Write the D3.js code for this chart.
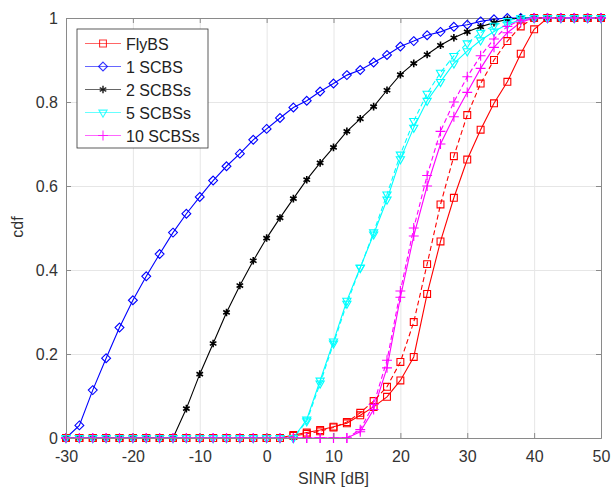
<!DOCTYPE html>
<html>
<head>
<meta charset="utf-8">
<script src="https://cdn.jsdelivr.net/npm/d3@7"></script>
<style>
    html, body { margin: 0; padding: 0; background: #fff; }
    svg { display: block; font-family: "Liberation Sans", Arial, sans-serif; }
    .grid line { stroke: #e6e6e6; stroke-width: 1; }
    .grid path { display: none; }
    .axis path, .axis line { stroke: #8a8a8a; stroke-width: 1; }
    .axis text { fill: #333; font-size: 16px; }
</style>
</head>
<body>
<svg id="cdf-chart" width="612" height="497"></svg>
<script>
// SINR axis (dB), one sample every 2 dB
const sinr = [-30, -28, -26, -24, -22, -20, -18, -16, -14, -12, -10, -8, -6, -4, -2, 0, 2, 4, 6, 8,
    10, 12, 14, 16, 18, 20, 22, 24, 26, 28, 30, 32, 34, 36, 38, 40, 42, 44, 46, 48, 50];

// cdf values (solid = first curve, dashed = second curve)
const flyBS = [0, 0, 0, 0, 0, 0, 0, 0, 0, 0, 0, 0, 0, 0, 0, 0, 0,
    0.007, 0.013, 0.019, 0.027, 0.035, 0.054, 0.074, 0.098, 0.137, 0.193, 0.343, 0.468, 0.572,
    0.663, 0.734, 0.797, 0.848, 0.915, 0.973, 1, 1, 1, 1, 1];
const flyBSDashed = [0, 0, 0, 0, 0, 0, 0, 0, 0, 0, 0, 0, 0, 0, 0, 0, 0,
    0.005, 0.010, 0.016, 0.025, 0.038, 0.060, 0.088, 0.122, 0.181, 0.276, 0.414, 0.556, 0.671,
    0.769, 0.844, 0.900, 0.945, 0.980, 1, 1, 1, 1, 1, 1];
const oneSCBS = [0, 0.030, 0.114, 0.190, 0.263, 0.328, 0.385, 0.438, 0.489, 0.534, 0.574, 0.613,
    0.647, 0.677, 0.710, 0.736, 0.762, 0.787, 0.803, 0.825, 0.844, 0.864, 0.876, 0.894, 0.912,
    0.932, 0.945, 0.959, 0.967, 0.979, 0.984, 0.992, 0.997, 1, 1, 1, 1, 1, 1, 1, 1];
const twoSCBSs = [0, 0, 0, 0, 0, 0, 0, 0, 0,
    0.070, 0.152, 0.225, 0.299, 0.363, 0.422, 0.476, 0.524, 0.570, 0.615, 0.655, 0.692, 0.730,
    0.760, 0.789, 0.828, 0.865, 0.892, 0.913, 0.935, 0.953, 0.967, 0.979, 0.989, 0.997,
    1, 1, 1, 1, 1, 1, 1];
const fiveSCBSs = [0, 0, 0, 0, 0, 0, 0, 0, 0, 0, 0, 0, 0, 0, 0, 0, 0, 0,
    0.044, 0.137, 0.230, 0.327, 0.406, 0.485, 0.568, 0.664, 0.739, 0.803, 0.848, 0.892, 0.921,
    0.947, 0.968, 0.985, 0.996, 1, 1, 1, 1, 1, 1];
const fiveSCBSsDashed = [0, 0, 0, 0, 0, 0, 0, 0, 0, 0, 0, 0, 0, 0, 0, 0, 0, 0,
    0.040, 0.130, 0.225, 0.320, 0.405, 0.490, 0.580, 0.675, 0.755, 0.820, 0.870, 0.910, 0.940,
    0.965, 0.982, 0.993, 1, 1, 1, 1, 1, 1, 1];
const tenSCBSs = [0, 0, 0, 0, 0, 0, 0, 0, 0, 0, 0, 0, 0, 0, 0, 0, 0, 0, 0, 0, 0, 0,
    0.015, 0.068, 0.167, 0.335, 0.481, 0.600, 0.700, 0.765, 0.823, 0.880, 0.930, 0.965, 0.990,
    1, 1, 1, 1, 1, 1];
const tenSCBSsDashed = [0, 0, 0, 0, 0, 0, 0, 0, 0, 0, 0, 0, 0, 0, 0, 0, 0, 0, 0, 0, 0, 0,
    0.020, 0.080, 0.185, 0.350, 0.500, 0.625, 0.730, 0.800, 0.860, 0.910, 0.950, 0.980, 0.995,
    1, 1, 1, 1, 1, 1];

const xTicks = [-30, -20, -10, 0, 10, 20, 30, 40, 50];
const xTickLabels = ['-30', '-20', '-10', '0', '10', '20', '30', '40', '50'];
const yTicks = [0, 0.2, 0.4, 0.6, 0.8, 1];
const yTickLabels = ['0', '0.2', '0.4', '0.6', '0.8', '1'];

// marker / colour settings per legend entry
const series = [
    { name: 'FlyBS', color: '#ff0000', symbol: d3.symbolSquare2, size: 60, rotate: 0, solid: flyBS, dashed: flyBSDashed },
    { name: '1 SCBS', color: '#0000ff', symbol: d3.symbolDiamond2, size: 50, rotate: 0, solid: oneSCBS, dashed: null },
    { name: '2 SCBSs', color: '#000000', symbol: d3.symbolAsterisk, size: 40, rotate: 0, solid: twoSCBSs, dashed: null },
    { name: '5 SCBSs', color: '#00ffff', symbol: d3.symbolTriangle2, size: 48, rotate: 180, solid: fiveSCBSs, dashed: fiveSCBSsDashed },
    { name: '10 SCBSs', color: '#ff00ff', symbol: d3.symbolPlus, size: 34, rotate: 0, solid: tenSCBSs, dashed: tenSCBSsDashed }
];

const margin = { top: 18, right: 11, bottom: 59, left: 66 };
const width = 612 - margin.left - margin.right;
const height = 497 - margin.top - margin.bottom;

const svg = d3.select("#cdf-chart")
    .append("g")
    .attr("transform", `translate(${margin.left},${margin.top})`);

const x = d3.scaleLinear().domain([-30, 50]).range([0, width]);
const y = d3.scaleLinear().domain([0, 1]).range([height, 0]);

// grid
svg.append("g")
    .attr("class", "grid")
    .attr("transform", `translate(0,${height})`)
    .call(d3.axisBottom(x).tickValues(xTicks).tickSize(-height).tickFormat(""));
svg.append("g")
    .attr("class", "grid")
    .call(d3.axisLeft(y).tickValues(yTicks).tickSize(-width).tickFormat(""));

// box (top and right edges)
svg.append("g")
    .attr("class", "axis")
    .call(d3.axisTop(x).tickValues(xTicks).tickSize(-5).tickFormat(""));
svg.append("g")
    .attr("class", "axis")
    .attr("transform", `translate(${width},0)`)
    .call(d3.axisRight(y).tickValues(yTicks).tickSize(-5).tickFormat(""));

// lines and markers
const line = d3.line()
    .x((d, i) => x(sinr[i]))
    .y(d => y(d));

function drawCurve(s, values, dashed) {
    const g = svg.append("g").attr("class", "curve");
    g.append("path")
        .datum(values)
        .attr("fill", "none")
        .attr("stroke", s.color)
        .attr("stroke-width", 1.1)
        .attr("stroke-dasharray", dashed ? "5,3" : null)
        .attr("d", line);
    g.selectAll("path.marker")
        .data(values)
        .join("path")
        .attr("class", "marker")
        .attr("transform", (d, i) => `translate(${x(sinr[i])},${y(d)}) rotate(${s.rotate})`)
        .attr("d", d3.symbol(s.symbol, s.size))
        .attr("fill", "none")
        .attr("stroke", s.color)
        .attr("stroke-width", s.symbol === d3.symbolAsterisk ? 1.6 : 1.1);
}

series.forEach(s => drawCurve(s, s.solid, false));
series.forEach(s => { if (s.dashed) drawCurve(s, s.dashed, true); });

// axes
svg.append("g")
    .attr("class", "axis")
    .attr("transform", `translate(0,${height})`)
    .call(d3.axisBottom(x).tickValues(xTicks).tickSizeInner(-5).tickSizeOuter(0).tickPadding(13)
        .tickFormat((d, i) => xTickLabels[i]));
svg.append("g")
    .attr("class", "axis")
    .call(d3.axisLeft(y).tickValues(yTicks).tickSizeInner(-5).tickSizeOuter(0).tickPadding(8)
        .tickFormat((d, i) => yTickLabels[i]));

// axis labels
svg.append("text")
    .attr("x", width / 2)
    .attr("y", height + 46)
    .attr("text-anchor", "middle")
    .style("font-size", "16px")
    .style("fill", "#333")
    .text("SINR [dB]");

svg.append("text")
    .attr("transform", "rotate(-90)")
    .attr("x", -(227 - margin.top))
    .attr("y", -43)
    .attr("text-anchor", "middle")
    .style("font-size", "16px")
    .style("fill", "#333")
    .text("cdf");

// legend
const legend = svg.append("g")
    .attr("class", "legend")
    .attr("transform", `translate(${77 - margin.left},${29 - margin.top})`);

legend.append("rect")
    .attr("width", 131)
    .attr("height", 119)
    .attr("fill", "#fff")
    .attr("stroke", "#333")
    .attr("stroke-width", 0.8);

series.forEach((s, i) => {
    const item = legend.append("g")
        .attr("transform", `translate(0,${14.5 + i * 23})`);
    item.append("line")
        .attr("x1", 8)
        .attr("x2", 44)
        .attr("stroke", s.color)
        .attr("stroke-opacity", 0.6)
        .attr("stroke-width", 1.1);
    item.append("path")
        .attr("transform", `translate(26,0) rotate(${s.rotate})`)
        .attr("d", d3.symbol(s.symbol, s.size))
        .attr("fill", "none")
        .attr("stroke", s.color)
        .attr("stroke-opacity", 0.8)
        .attr("stroke-width", s.symbol === d3.symbolAsterisk ? 1.6 : 1.1);
    item.append("text")
        .attr("x", 49)
        .attr("y", 6)
        .style("font-size", "16px")
        .style("fill", "#222")
        .text(s.name);
});
</script>
</body>
</html>
